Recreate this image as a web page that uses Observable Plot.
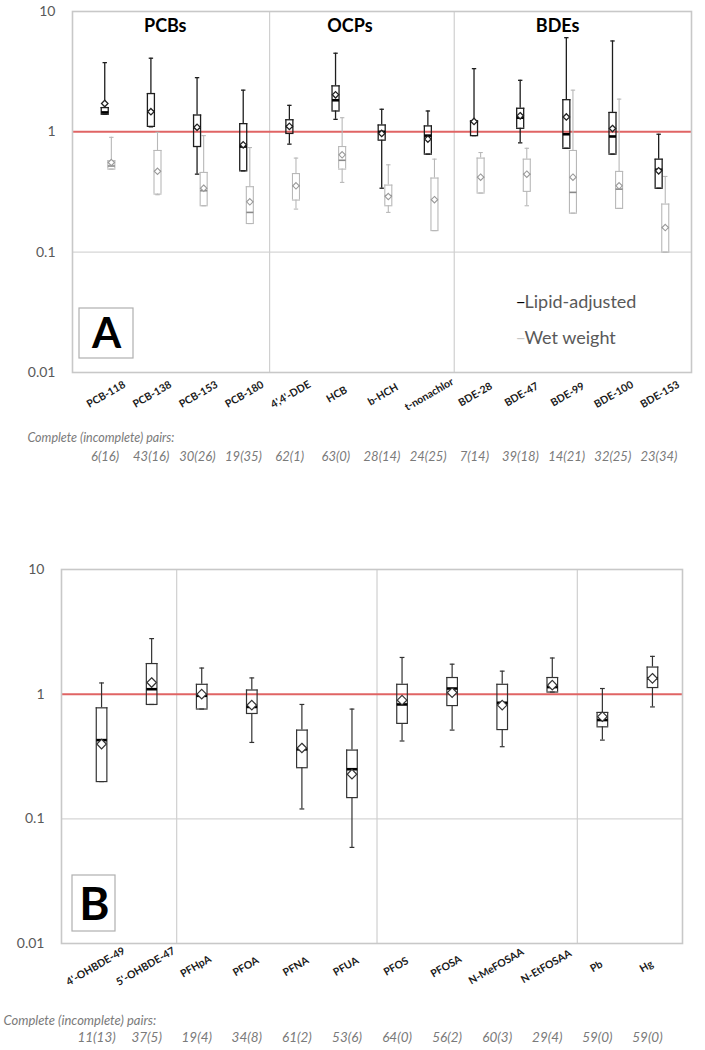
<!DOCTYPE html>
<html><head><meta charset="utf-8">
<script src="https://cdn.jsdelivr.net/npm/d3@7"></script>
<script src="https://cdn.jsdelivr.net/npm/@observablehq/plot@0.6"></script>
<style>body{margin:0;background:#fff;} #chart svg{display:block}</style>
</head><body><div id="chart"></div>
<script>
// ---------- Panel A data ----------
const catsA = ["PCB-118","PCB-138","PCB-153","PCB-180","4',4'-DDE","HCB","b-HCH","t-nonachlor","BDE-28","BDE-47","BDE-99","BDE-100","BDE-153"];
const groupsA = [{name:"PCBs", first:0, last:3},{name:"OCPs", first:4, last:7},{name:"BDEs", first:8, last:12}];
const pairsA = ["6(16)","43(16)","30(26)","19(35)","62(1)","63(0)","28(14)","24(25)","7(14)","39(18)","14(21)","32(25)","23(34)"];
// Lipid-adjusted
const lipMin  = [1.40, 1.10, 0.445, 0.474, 0.79, 1.27, 0.34, 0.653, 0.93, 0.81, 0.73, 0.653, 0.34];
const lipQ1   = [1.40, 1.11, 0.755, 0.474, 0.97, 1.49, 0.853, 0.653, 0.93, 1.07, 0.73, 0.653, 0.34];
const lipMed  = [1.45, 1.47, 1.09, 0.755, 1.11, 1.83, 1.00, 0.93, 1.22, 1.31, 0.955, 0.915, 0.484];
const lipQ3   = [1.59, 2.08, 1.38, 1.17, 1.26, 2.41, 1.14, 1.12, 1.23, 1.57, 1.85, 1.45, 0.593];
const lipMax  = [3.76, 4.09, 2.82, 2.22, 1.66, 4.50, 1.54, 1.49, 3.35, 2.68, 6.06, 5.69, 0.955];
const lipMean = [1.72, 1.47, 1.09, 0.78, 1.11, 2.03, 0.97, 0.87, 1.22, 1.36, 1.33, 1.065, 0.474];
// Wet weight
const wetMin  = [0.49, 0.30, 0.243, 0.173, 0.228, 0.38, 0.214, 0.151, 0.31, 0.243, 0.211, 0.231, 0.100];
const wetQ1   = [0.49, 0.304, 0.243, 0.173, 0.271, 0.49, 0.243, 0.151, 0.31, 0.32, 0.211, 0.231, 0.100];
const wetMed  = [0.52, 0.47, 0.324, 0.214, 0.356, 0.58, 0.295, 0.273, 0.42, 0.445, 0.314, 0.334, 0.16];
const wetQ3   = [0.575, 0.70, 0.46, 0.35, 0.45, 0.755, 0.361, 0.413, 0.605, 0.593, 0.70, 0.469, 0.251];
const wetMax  = [0.90, 0.99, 0.93, 0.74, 0.605, 1.31, 0.532, 0.593, 0.673, 0.73, 2.22, 1.87, 0.426];
const wetMean = [0.556, 0.47, 0.34, 0.262, 0.356, 0.644, 0.29, 0.273, 0.42, 0.445, 0.42, 0.356, 0.16];

// ---------- Panel B data ----------
const catsB = ["4'-OHBDE-49","5'-OHBDE-47","PFHpA","PFOA","PFNA","PFUA","PFOS","PFOSA","N-MeFOSAA","N-EtFOSAA","Pb","Hg"];
const groupsB = [{first:0,last:1},{first:2,last:5},{first:6,last:9},{first:10,last:11}];
const pairsB = ["11(13)","37(5)","19(4)","34(8)","61(2)","53(6)","64(0)","56(2)","60(3)","29(4)","59(0)","59(0)"];
const bMin  = [0.199, 0.827, 0.76, 0.41, 0.12, 0.059, 0.421, 0.515, 0.379, 1.04, 0.428, 0.79];
const bQ1   = [0.199, 0.827, 0.76, 0.70, 0.257, 0.148, 0.583, 0.81, 0.52, 1.04, 0.547, 1.13];
const bMed  = [0.428, 1.096, 0.97, 0.79, 0.361, 0.25, 0.827, 1.11, 0.853, 1.14, 0.62, 1.34];
const bQ3   = [0.777, 1.76, 1.20, 1.08, 0.515, 0.356, 1.20, 1.36, 1.20, 1.36, 0.714, 1.65];
const bMax  = [1.23, 2.79, 1.62, 1.35, 0.827, 0.759, 1.97, 1.74, 1.53, 1.95, 1.11, 2.01];
const bMean = [0.398, 1.24, 1.00, 0.817, 0.37, 0.228, 0.895, 1.03, 0.817, 1.18, 0.66, 1.34];

const yTicks = [0.01, 0.1, 1, 10];
const pairsLabel = "Complete (incomplete) pairs:";
const legendA = ["Lipid-adjusted", "Wet weight"];
const labelAngle = -30;

// ---------- helpers ----------
function table(cats, mn, q1, md, q3, mx, mean, pairs) {
  return cats.map((name, i) => ({i, name, min: mn[i], q1: q1[i], med: md[i], q3: q3[i], max: mx[i], mean: mean[i], pairs: pairs ? pairs[i] : ""}));
}
const tLip = table(catsA, lipMin, lipQ1, lipMed, lipQ3, lipMax, lipMean, pairsA);
const tWet = table(catsA, wetMin, wetQ1, wetMed, wetQ3, wetMax, wetMean, pairsA);
const tB = table(catsB, bMin, bQ1, bMed, bQ3, bMax, bMean, pairsB);

const hline = {draw(ctx, size) { const w = Math.sqrt(size / Math.PI); ctx.moveTo(-w, 0); ctx.lineTo(w, 0); }};

function boxMarks(data, o) {
  const {dx = 0, stroke, medStroke, meanStroke, hw, lw, medW, meanR, capR} = o;
  return [
    Plot.ruleX(data, {x: "i", y1: "max", y2: "q3", stroke, strokeWidth: lw, dx}),
    Plot.ruleX(data, {x: "i", y1: "q1", y2: "min", stroke, strokeWidth: lw, dx}),
    Plot.dot(data, {x: "i", y: "max", symbol: hline, r: capR, stroke, strokeWidth: lw, dx}),
    Plot.dot(data, {x: "i", y: "min", symbol: hline, r: capR, stroke, strokeWidth: lw, dx}),
    Plot.ruleX(data, {x: "i", y1: "q3", y2: "q1", stroke, strokeWidth: lw, dx: dx - hw}),
    Plot.ruleX(data, {x: "i", y1: "q3", y2: "q1", stroke, strokeWidth: lw, dx: dx + hw}),
    Plot.dot(data, {x: "i", y: "q3", symbol: hline, r: hw + lw / 2, stroke, strokeWidth: lw, dx}),
    Plot.dot(data, {x: "i", y: "q1", symbol: hline, r: hw + lw / 2, stroke, strokeWidth: lw, dx}),
    Plot.dot(data, {x: "i", y: "med", symbol: hline, r: hw, stroke: medStroke, strokeWidth: medW, dx}),
    Plot.dot(data, {x: "i", y: "mean", symbol: "diamond2", r: meanR, fill: "white", stroke: meanStroke, strokeWidth: lw, dx})
  ];
}

function boxFrame(ox, oy, w, h) {
  return (index, scales, values, dims) => {
    const g = d3.create("svg:g");
    g.append("rect")
      .attr("x", dims.marginLeft + ox).attr("y", dims.marginTop + oy)
      .attr("width", w).attr("height", h)
      .attr("fill", "white").attr("stroke", "#b0b0b0").attr("stroke-width", 1.2);
    return g.node();
  };
}

const common = {
  width: 705,
  style: {fontFamily: "Lato, 'Open Sans', sans-serif", color: "#595959", background: "white"}
};
const yAxis = Plot.axisY({ticks: yTicks, tickFormat: d => String(d), tickSize: 0, tickPadding: 17, fontSize: 14, label: null});

// ---------- Panel A ----------
const plotA = Plot.plot({
  ...common,
  height: 520, marginTop: 11, marginBottom: 148, marginLeft: 72, marginRight: 14,
  x: {type: "linear", domain: [-0.77, 12.64], axis: null},
  y: {type: "log", domain: [0.01, 10]},
  marks: [
    Plot.ruleY([0.1], {stroke: "#d6d6d6", strokeWidth: 1.3}),
    Plot.ruleX(groupsA.slice(1).map(g => g.first - 0.5), {stroke: "#d0d0d0", strokeWidth: 1.2}),
    Plot.ruleY([1], {stroke: "#e06464", strokeWidth: 2}),
    Plot.frame({stroke: "#c8c8c8", strokeWidth: 1.6}),
    yAxis,
    ...boxMarks(tWet, {dx: 3.3, stroke: "#b8b8b8", medStroke: "#8a8a8a", meanStroke: "#9a9a9a", hw: 3.5, lw: 1.1, medW: 1.6, meanR: 2.9, capR: 2.2}),
    ...boxMarks(tLip, {dx: -3.3, stroke: "#1e1e1e", medStroke: "#000", meanStroke: "#222", hw: 3.5, lw: 1.3, medW: 2.6, meanR: 2.9, capR: 2.2}),
    Plot.text(groupsA, {x: d => (d.first + d.last) / 2, text: "name", frameAnchor: "top", lineAnchor: "middle", dy: 15, dx: -12, fontSize: 18, fontWeight: "bold", fill: "#000"}),
    Plot.text(tLip, {x: "i", text: "name", frameAnchor: "bottom", textAnchor: "middle", lineAnchor: "middle", rotate: labelAngle, dx: -2, dy: 22, fontSize: 10.5, fontWeight: "bold", fill: "#1a1a1a"}),
    Plot.text([pairsLabel], {frameAnchor: "bottom-left", textAnchor: "start", lineAnchor: "middle", dx: -45, dy: 65, fontSize: 12.5, fontStyle: "italic", fill: "#7a7a7a"}),
    Plot.text(tLip, {x: "i", text: "pairs", frameAnchor: "bottom", lineAnchor: "middle", dy: 84, dx: -3, fontSize: 13, fontStyle: "italic", fill: "#7a7a7a"}),
    Plot.text(["–"], {frameAnchor: "top-left", textAnchor: "start", lineAnchor: "middle", dx: 443, dy: 291, fontSize: 18, fill: "#000"}),
    Plot.text([legendA[0]], {frameAnchor: "top-left", textAnchor: "start", lineAnchor: "middle", dx: 452, dy: 291, fontSize: 18, fill: "#595959"}),
    Plot.text(["–"], {frameAnchor: "top-left", textAnchor: "start", lineAnchor: "middle", dx: 443, dy: 327, fontSize: 18, fill: "#c8c8c8"}),
    Plot.text([legendA[1]], {frameAnchor: "top-left", textAnchor: "start", lineAnchor: "middle", dx: 452, dy: 327, fontSize: 18, fill: "#595959"}),
    boxFrame(7, 297, 54, 50),
    Plot.text(["A"], {frameAnchor: "top-left", textAnchor: "middle", lineAnchor: "middle", dx: 34, dy: 323, fontSize: 42, fontWeight: "bold", fill: "#000"})
  ]
});

// ---------- Panel B ----------
const plotB = Plot.plot({
  ...common,
  height: 530, marginTop: 49, marginBottom: 107, marginLeft: 61, marginRight: 23,
  x: {type: "linear", domain: [-0.8, 11.6], axis: null},
  y: {type: "log", domain: [0.01, 10]},
  marks: [
    Plot.ruleY([0.1], {stroke: "#d6d6d6", strokeWidth: 1.3}),
    Plot.ruleX(groupsB.slice(1).map(g => g.first - 0.5), {stroke: "#d0d0d0", strokeWidth: 1.2}),
    Plot.ruleY([1], {stroke: "#e06464", strokeWidth: 2}),
    Plot.frame({stroke: "#c8c8c8", strokeWidth: 1.6}),
    yAxis,
    ...boxMarks(tB, {dx: 0, stroke: "#333", medStroke: "#000", meanStroke: "#333", hw: 5.3, lw: 1.2, medW: 2.6, meanR: 4.3, capR: 2.4}),
    Plot.text(tB, {x: "i", text: "name", frameAnchor: "bottom", textAnchor: "middle", lineAnchor: "middle", rotate: labelAngle, dx: -6, dy: 23, fontSize: 10.5, fontWeight: "bold", fill: "#1a1a1a"}),
    Plot.text([pairsLabel], {frameAnchor: "bottom-left", textAnchor: "start", lineAnchor: "middle", dx: -58, dy: 77, fontSize: 13, fontStyle: "italic", fill: "#7a7a7a"}),
    Plot.text(tB, {x: "i", text: "pairs", frameAnchor: "bottom", lineAnchor: "middle", dy: 94, dx: -5, fontSize: 13.5, fontStyle: "italic", fill: "#7a7a7a"}),
    boxFrame(11, 306, 43, 56),
    Plot.text(["B"], {frameAnchor: "top-left", textAnchor: "middle", lineAnchor: "middle", dx: 33, dy: 336, fontSize: 46, fontWeight: "bold", fill: "#000"})
  ]
});

document.getElementById("chart").append(plotA, plotB);
</script>
</body></html>
